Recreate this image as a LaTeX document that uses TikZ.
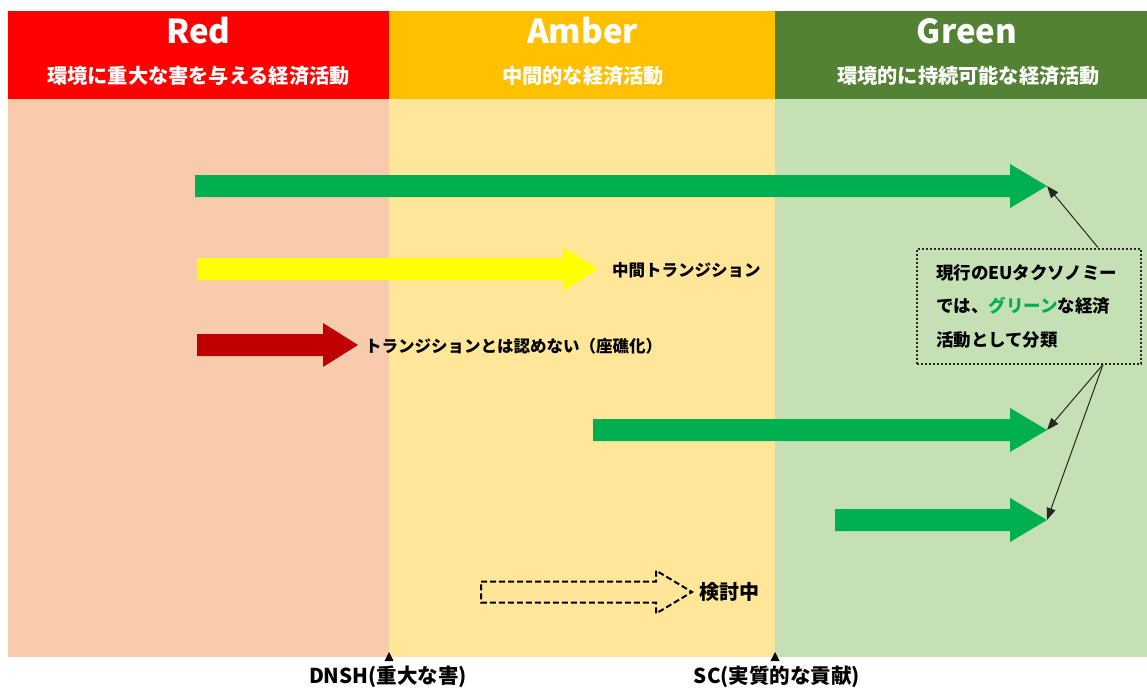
\documentclass[tikz,border=0pt]{standalone}
\usepackage{fontspec}
\setmainfont{Noto Sans CJK JP}
\usetikzlibrary{arrows.meta}
\definecolor{hdrRed}{HTML}{FF0000}
\definecolor{hdrAmber}{HTML}{FFC000}
\definecolor{hdrGreen}{HTML}{548235}
\definecolor{bodyRed}{HTML}{F8CBAD}
\definecolor{bodyAmber}{HTML}{FFE699}
\definecolor{bodyGreen}{HTML}{C5E0B4}
\definecolor{arrGreen}{HTML}{00B050}
\definecolor{arrYellow}{HTML}{FFFF00}
\definecolor{arrRed}{HTML}{C00000}
\definecolor{lineGray}{HTML}{262626}
\tikzset{
  hdrtitle/.style={text=white,font=\fontsize{33}{36}\selectfont\bfseries,inner sep=0pt},
  hdrsub/.style={text=white,font=\fontsize{20.2}{23}\selectfont\bfseries,inner sep=0pt},
  lbl/.style={text=black,font=\fontsize{16.5}{20}\selectfont\bfseries,anchor=west,inner sep=0pt},
  axislbl/.style={text=black,font=\fontsize{20.5}{23}\selectfont\bfseries,inner sep=0pt},
  notebox/.style={draw=lineGray,line width=2pt,dash pattern=on 2pt off 2pt,
    text width=186pt,inner xsep=19pt,inner ysep=0pt,minimum height=115pt,align=left,
    font=\fontsize{17.5}{33.5}\selectfont\bfseries},
  callout/.style={draw=lineGray,line width=1pt,-{Triangle[length=12pt,width=9pt]}},
  dashedarrow/.style={draw=black,line width=2pt,dash pattern=on 6pt off 3pt,line join=miter}
}
% block arrow: #1 start x, #2 head base x, #3 tip x, #4 centre y, #5 shaft half, #6 head half, #7 style
\newcommand\blockarr[7]{%
  \path[#7] (#1,#4-#5) -- (#2,#4-#5) -- (#2,#4-#6) -- (#3,#4) -- (#2,#4+#6)
    -- (#2,#4+#5) -- (#1,#4+#5) -- cycle;}
\begin{document}
\begin{tikzpicture}[x=1pt,y=-1pt]
\useasboundingbox[fill=white] (0,0) rectangle (1147,688);
% column bodies
\fill[bodyRed] (8,99) rectangle (389,657);
\fill[bodyAmber] (389,99) rectangle (775,657);
\fill[bodyGreen] (775,99) rectangle (1147,657);
% headers
\fill[hdrRed] (8,11) rectangle (389,99);
\fill[hdrAmber] (389,11) rectangle (775,99);
\fill[hdrGreen] (775,11) rectangle (1147,99);
\node[hdrtitle] (tRed) at (198.5,31) {Red};
\node[hdrtitle] (tAmber) at (582.5,31) {Amber};
\node[hdrtitle] (tGreen) at (967,31) {Green};
\node[hdrsub] (sRed) at (198.5,76) {環境に重大な害を与える経済活動};
\node[hdrsub] (sAmber) at (583,76) {中間的な経済活動};
\node[hdrsub] (sGreen) at (968.5,76) {環境的に持続可能な経済活動};
% block arrows
\blockarr{195}{1010}{1047}{186}{11}{22}{fill=arrGreen}
\coordinate (tip1) at (1047,186);
\blockarr{197}{563}{598}{269}{11}{22}{fill=arrYellow}
\blockarr{197}{323}{358}{345}{11}{22}{fill=arrRed}
\blockarr{593}{1010}{1047}{430}{11}{22}{fill=arrGreen}
\coordinate (tip4) at (1047,430);
\blockarr{835}{1010}{1047}{520}{11}{22}{fill=arrGreen}
\coordinate (tip5) at (1047,520);
\blockarr{481}{656}{692}{592}{10.5}{21.5}{dashedarrow}
% labels
\node[lbl] (lMid) at (612,270) {中間トランジション};
\node[lbl] (lStr) at (365,346) {トランジションとは認めない（座礁化）};
\node[lbl,font=\fontsize{20}{23}\selectfont\bfseries] (lRev) at (699,592) {検討中};
% callout
\node[notebox] (note) at (1029,306) {現行のEUタクソノミー\\では、\textcolor{arrGreen}{グリーン}な経済\\活動として分類};
\draw[callout] ([xshift=-44pt]note.north east) -- (tip1);
\draw[callout] ([xshift=-39pt]note.south east) -- (tip4);
\draw[callout] ([xshift=-39pt]note.south east) -- (tip5);
% axis markers
\fill[black] (389,652) -- (393.5,661) -- (384.5,661) -- cycle;
\fill[black] (775,652) -- (779.5,661) -- (770.5,661) -- cycle;
\node[axislbl] (dnsh) at (388,677) {DNSH(重大な害)};
\node[axislbl] (sc) at (777,677) {SC(実質的な貢献)};
\end{tikzpicture}
\end{document}
